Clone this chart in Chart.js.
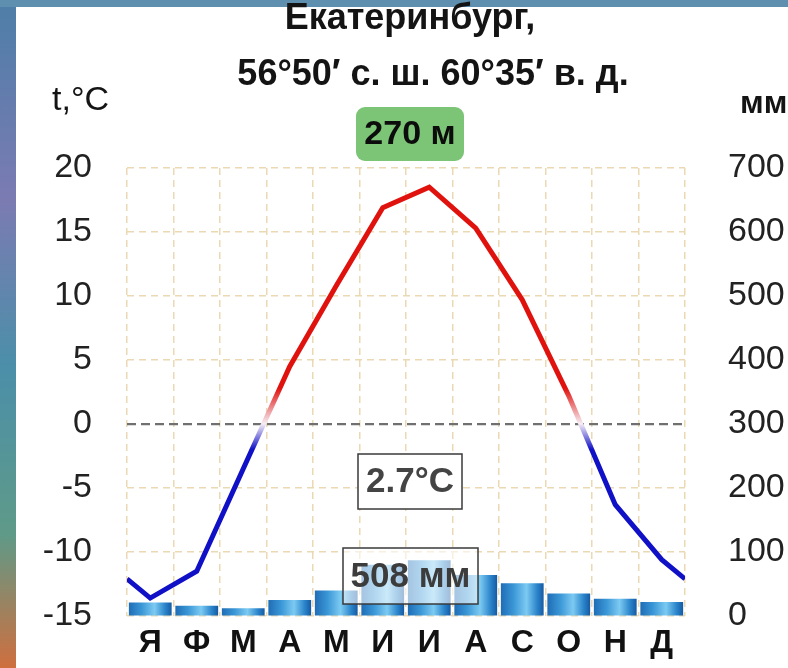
<!DOCTYPE html>
<html lang="ru">
<head>
<meta charset="utf-8">
<title>Екатеринбург</title>
<script src="https://cdn.jsdelivr.net/npm/chart.js@4.4.1/dist/chart.umd.min.js"></script>
<style>
  html, body { margin: 0; padding: 0; background: #fff; }
  canvas { display: block; }
</style>
</head>
<body>
<canvas id="climateChart" width="788" height="668"></canvas>
<script>
const months = ['Я', 'Ф', 'М', 'А', 'М', 'И', 'И', 'А', 'С', 'О', 'Н', 'Д'];
const temperature = [-13.6, -11.5, -3.5, 4.5, 10.8, 16.9, 18.5, 15.3, 9.7, 2.2, -6.3, -10.6];
const precipitation = [21, 16, 12, 25, 40, 80, 87, 64, 51, 35, 27, 22];
const tempTicks = [-15, -10, -5, 0, 5, 10, 15, 20];
const precipTicks = [0, 100, 200, 300, 400, 500, 600, 700];

const title = 'Екатеринбург,';
const coords = '56°50′ с. ш. 60°35′ в. д.';
const altitude = '270 м';
const meanTemp = '2.7°C';
const totalPrecip = '508 мм';

const FONT = '"Liberation Sans", Arial, sans-serif';
const GRID = '#ead9b2';
const RED = '#e0120e';
const BLUE = '#1010c6';

// the curve wraps round the year: both edges sit halfway between December and January
const edgeTemp = (temperature[0] + temperature[temperature.length - 1]) / 2;
const lineData = [{x: 0, y: edgeTemp}]
    .concat(temperature.map((t, i) => ({x: i + 0.5, y: t})))
    .concat([{x: months.length, y: edgeTemp}]);

function tempColor(c) {
    const chart = c.chart;
    const ys = chart.scales.y;
    if (!chart.chartArea || !ys) return RED;
    const g = chart.ctx.createLinearGradient(0, ys.getPixelForValue(2.8), 0, ys.getPixelForValue(-2));
    g.addColorStop(0, RED);
    g.addColorStop(0.58, '#f6eef5');
    g.addColorStop(1, BLUE);
    return g;
}

function barColor(c) {
    const chart = c.chart;
    const xs = chart.scales.x;
    if (!chart.chartArea || !xs) return '#2f8ad0';
    const cx = xs.getPixelForValue(c.dataIndex);
    const half = xs.width / months.length * 0.92 / 2;
    const g = chart.ctx.createLinearGradient(cx - half, 0, cx + half, 0);
    g.addColorStop(0, '#1f6db6');
    g.addColorStop(0.3, '#3b97d6');
    g.addColorStop(0.6, '#7ccaf2');
    g.addColorStop(0.85, '#2a84ca');
    g.addColorStop(1, '#165aa3');
    return g;
}

const frame = {
    id: 'frame',
    beforeDraw(chart) {
        const {ctx, width, height} = chart;
        ctx.save();
        const g = ctx.createLinearGradient(0, 0, 0, height);
        g.addColorStop(0, '#4d7ea8');
        g.addColorStop(0.3, '#7b7bb2');
        g.addColorStop(0.55, '#4b8fa9');
        g.addColorStop(0.8, '#5f9a88');
        g.addColorStop(1, '#cf6f3f');
        ctx.fillStyle = g;
        ctx.fillRect(0, 0, width, height);
        ctx.fillStyle = '#5f8fae';
        ctx.fillRect(0, 0, width, 7);
        ctx.fillStyle = '#ffffff';
        ctx.fillRect(16, 7, width - 16, height - 7);
        ctx.restore();
    }
};

function box(ctx, x, y, w, h, fill, text, color) {
    ctx.fillStyle = fill;
    ctx.fillRect(x, y, w, h);
    ctx.strokeStyle = '#3a3a3a';
    ctx.lineWidth = 1.5;
    ctx.strokeRect(x, y, w, h);
    ctx.fillStyle = color;
    ctx.fillText(text, x + w / 2, y + h / 2 + 1);
}

const annotations = {
    id: 'annotations',
    afterDraw(chart) {
        const {ctx} = chart;
        ctx.save();
        ctx.textBaseline = 'middle';
        ctx.textAlign = 'center';
        ctx.fillStyle = '#141414';
        ctx.font = `bold 36px ${FONT}`;
        ctx.fillText(title, 410, 19);
        ctx.fillText(coords, 433, 75);

        ctx.textAlign = 'left';
        ctx.font = `34px ${FONT}`;
        ctx.fillText('t,°C', 52, 101);
        ctx.font = `bold 32px ${FONT}`;
        ctx.fillText('мм', 740, 104);

        // altitude badge
        ctx.fillStyle = '#7cc476';
        ctx.beginPath();
        ctx.roundRect(356, 107, 108, 54, 9);
        ctx.fill();
        ctx.textAlign = 'center';
        ctx.fillStyle = '#0c0c0c';
        ctx.font = `bold 34px ${FONT}`;
        ctx.fillText(altitude, 410, 135);

        ctx.font = `bold 35px ${FONT}`;
        box(ctx, 358, 454, 104, 55, '#ffffff', meanTemp, '#444444');
        box(ctx, 343, 548, 135, 56, 'rgba(255,255,255,0.6)', totalPrecip, '#3c3c3c');
        ctx.restore();
    }
};

new Chart(document.getElementById('climateChart'), {
    data: {
        labels: months,
        datasets: [
            {
                type: 'line',
                data: lineData,
                xAxisID: 'x2',
                yAxisID: 'y',
                borderColor: tempColor,
                borderWidth: 5,
                pointRadius: 0,
                tension: 0,
                order: 1
            },
            {
                type: 'bar',
                data: precipitation,
                xAxisID: 'x',
                yAxisID: 'y1',
                backgroundColor: barColor,
                grouped: false,
                barPercentage: 0.92,
                categoryPercentage: 1,
                order: 2
            }
        ]
    },
    options: {
        responsive: false,
        animation: false,
        layout: {padding: {top: 168, left: 0, right: 0, bottom: 0}},
        plugins: {
            legend: {display: false},
            tooltip: {enabled: false}
        },
        scales: {
            x: {
                type: 'category',
                offset: true,
                grid: {offset: true, color: GRID, lineWidth: 1.5, drawTicks: false},
                border: {display: false, dash: [7, 5]},
                ticks: {
                    padding: 8,
                    color: '#111',
                    font: {family: FONT, size: 32, weight: 'bold'},
                    maxRotation: 0,
                    autoSkip: false
                },
                afterFit(s) { s.height = 52; }
            },
            x2: {
                type: 'linear',
                min: 0,
                max: months.length,
                display: false
            },
            y: {
                position: 'left',
                min: tempTicks[0],
                max: tempTicks[tempTicks.length - 1],
                // gap between labels and plot comes from an invisible tick mark,
                // so it does not add vertical padding below the chart area
                grid: {
                    color: c => c.tick.value === 0 ? '#707070' : GRID,
                    lineWidth: c => c.tick.value === 0 ? 2.2 : 1.5,
                    drawTicks: true,
                    tickLength: 35,
                    tickColor: 'rgba(0,0,0,0)'
                },
                border: {display: false, dash: c => c.tick && c.tick.value === 0 ? [9, 5] : [7, 5]},
                ticks: {
                    stepSize: tempTicks[1] - tempTicks[0],
                    padding: 0,
                    color: '#222',
                    font: {family: FONT, size: 34}
                },
                afterFit(s) { s.width = 127; }
            },
            y1: {
                position: 'right',
                min: precipTicks[0],
                max: precipTicks[precipTicks.length - 1],
                grid: {drawOnChartArea: false, drawTicks: true, tickLength: 43, tickColor: 'rgba(0,0,0,0)'},
                border: {display: false},
                ticks: {
                    stepSize: precipTicks[1] - precipTicks[0],
                    padding: 0,
                    color: '#222',
                    font: {family: FONT, size: 34}
                },
                afterFit(s) { s.width = 103; }
            }
        }
    },
    plugins: [frame, annotations]
});
</script>
</body>
</html>
